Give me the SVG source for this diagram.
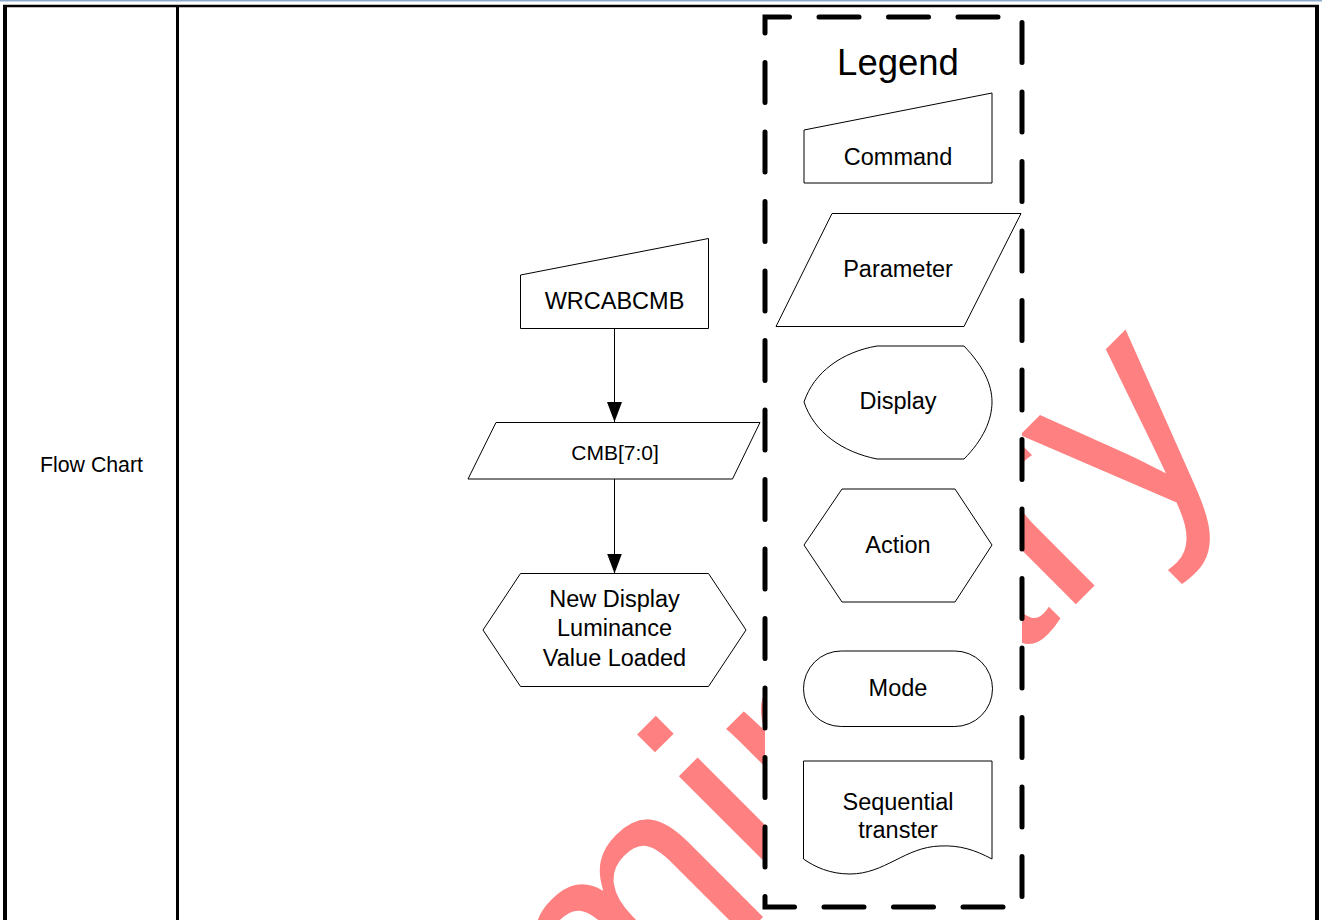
<svg xmlns="http://www.w3.org/2000/svg" width="1322" height="920" viewBox="0 0 1322 920">
<defs>
<style>
.shape{fill:#fff;stroke:#000;stroke-width:1}
.t{font-family:"Liberation Sans",Arial,sans-serif;fill:#000;text-anchor:middle;font-size:23.5px}
.frame{stroke:#000;fill:none}
.conn{stroke:#000;stroke-width:1;fill:none}
</style>
<marker id="arr" markerWidth="20" markerHeight="15" refX="20" refY="7.5" orient="auto" markerUnits="userSpaceOnUse">
<path d="M0,0 L20,7.5 L0,15 Z" fill="#000"/>
</marker>
</defs>
<rect x="0" y="0" width="1322" height="920" fill="#fff"/>
<g id="table">
<line x1="0" y1="0.75" x2="1322" y2="0.75" stroke="#8eaacb" stroke-width="1.5"/>
<line class="frame" x1="3" y1="6" x2="1319" y2="6" stroke-width="2.5"/>
<line class="frame" x1="5" y1="5" x2="5" y2="920" stroke-width="4"/>
<line class="frame" x1="177.5" y1="5" x2="177.5" y2="920" stroke-width="3"/>
<line class="frame" x1="1317" y1="5" x2="1317" y2="920" stroke-width="4"/>
<text class="t" x="91.5" y="471.5" style="font-size:21.3px">Flow Chart</text>
</g>
<g id="watermark">
<text x="0" y="0" transform="translate(174,1506) rotate(-45)" font-family="Liberation Sans, Arial, sans-serif" font-size="301" fill="#ff8080">Preliminary</text>
</g>
<g id="legend">
<path d="M765,17 H1022 V907 H765 Z" fill="#fff" stroke="#000" stroke-width="5" stroke-linecap="round" stroke-dasharray="40 29.5" stroke-dashoffset="15.5"/>
<text class="t" x="898" y="75" style="font-size:36.5px">Legend</text>
</g>
<g id="legend-command">
<polygon class="shape" points="804,130 992,93 992,183 804,183"/>
<text class="t" x="898" y="165">Command</text>
</g>
<g id="legend-parameter">
<polygon class="shape" points="832,213.5 1021,213.5 964,326.5 776,326.5"/>
<text class="t" x="898" y="276.5">Parameter</text>
</g>
<g id="legend-display">
<path class="shape" d="M877,346 L964,346 C983,366 992,384 992,402 C992,420 983,440 964,459 L877,459 C842,452 814,432 804,402 C814,372 842,352 877,346 Z"/>
<text class="t" x="898" y="408.5">Display</text>
</g>
<g id="legend-action">
<polygon class="shape" points="842,489 955,489 992,545 955,602 842,602 804,545"/>
<text class="t" x="898" y="552.5">Action</text>
</g>
<g id="legend-mode">
<rect class="shape" x="803.5" y="651" width="189" height="75.5" rx="37.75" ry="37.75"/>
<text class="t" x="898" y="696">Mode</text>
</g>
<g id="legend-sequential">
<path class="shape" d="M803.5,761 H992 V859 C975,850 960,845 940,846 C905,847 885,874 850,874 C830,874 815,867 803.5,859 Z"/>
<text class="t" x="898" y="810">Sequential</text>
<text class="t" x="898" y="838">transter</text>
</g>
<g id="connectors">
<line class="conn" x1="614.5" y1="328.5" x2="614.5" y2="422" marker-end="url(#arr)"/>
<line class="conn" x1="614.5" y1="479" x2="614.5" y2="573.5" marker-end="url(#arr)"/>
</g>
<g id="node-wrcabcmb">
<polygon class="shape" points="520.5,275 708.5,238.5 708.5,328.5 520.5,328.5"/>
<text class="t" x="614.5" y="309">WRCABCMB</text>
</g>
<g id="node-cmb">
<polygon class="shape" points="496,422.5 760,422.5 732.5,479 468,479"/>
<text class="t" x="615" y="460" style="font-size:21px">CMB[7:0]</text>
</g>
<g id="node-newdisplay">
<polygon class="shape" points="520.5,573.5 708.5,573.5 746,630 708.5,686.5 520.5,686.5 483,630"/>
<text class="t" x="614.5" y="607">New Display</text>
<text class="t" x="614.5" y="636">Luminance</text>
<text class="t" x="614.5" y="665.5">Value Loaded</text>
</g>
</svg>
